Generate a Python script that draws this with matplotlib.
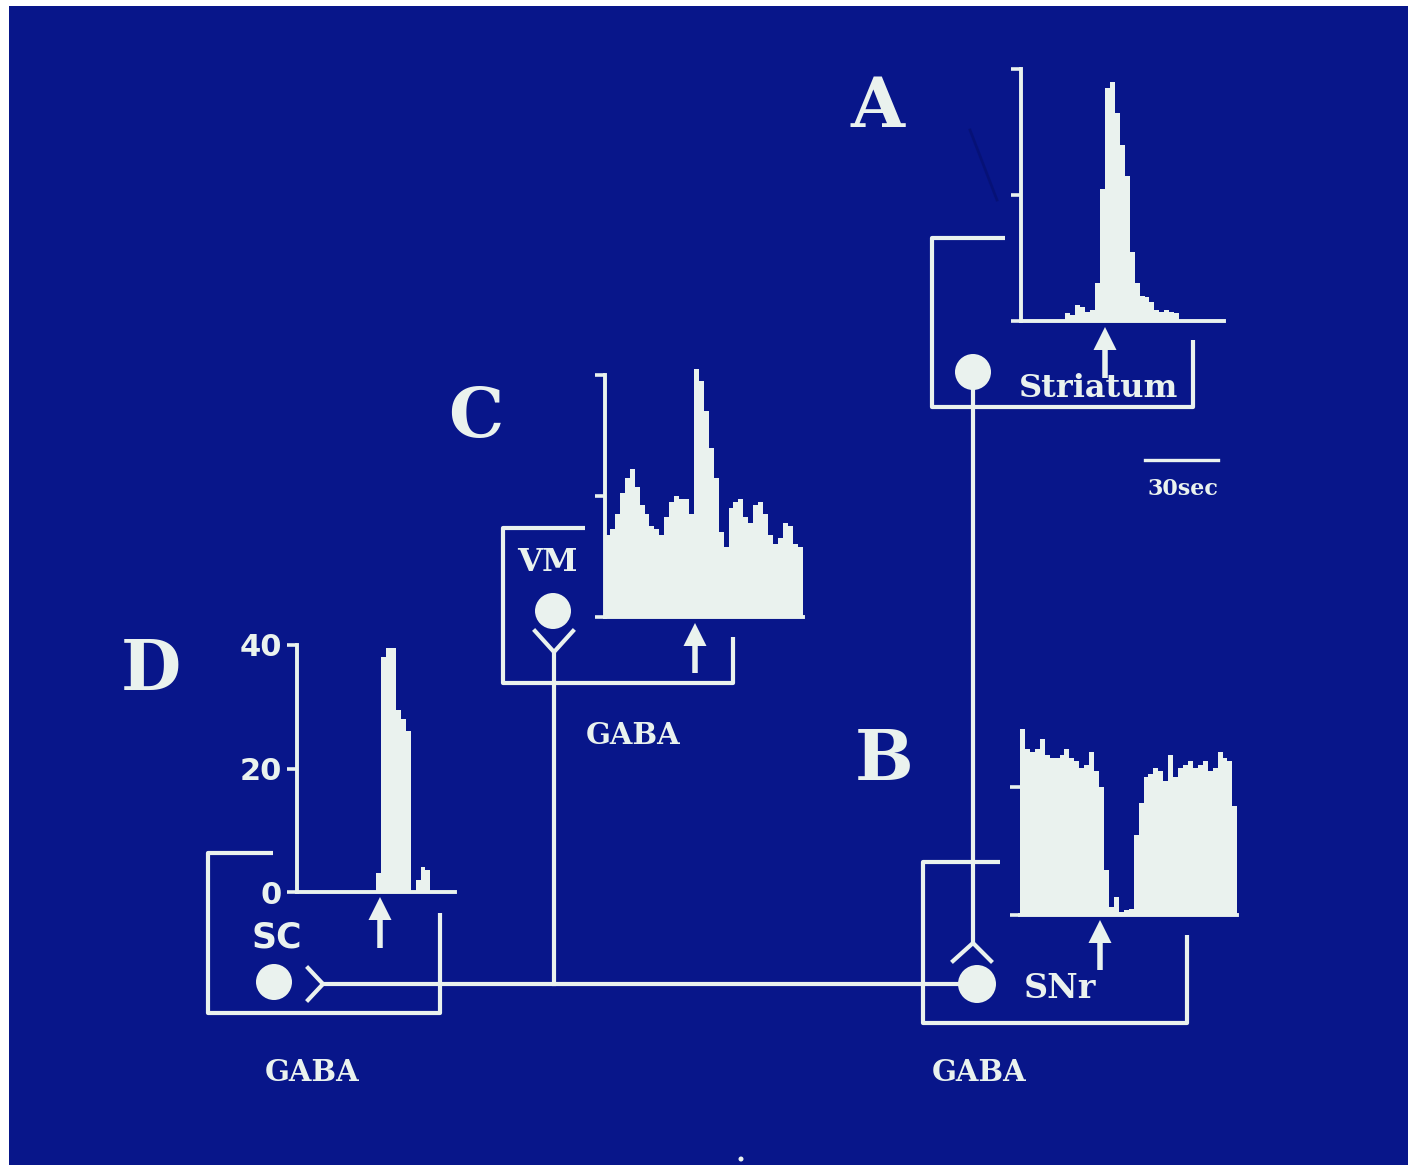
import numpy as np
import matplotlib.pyplot as plt
from matplotlib.patches import Circle, FancyArrow, Rectangle

W, H = 1408, 1165
BLUE = "#08168a"
FG = "#eaf2ee"
SERIF = "DejaVu Serif"
SANS = "DejaVu Sans"

BIN_S = 2.0  # seconds per histogram bin (30 s bar = 15 bins)

# rate histograms (spikes / bin), one value per 2 s bin
striatum_rate = [0, 0, 0, 0, 0, 0, 0, 0, 0, 1.3, 1.0, 2.5, 2.2, 1.5, 1.8, 6,
                 21, 37, 38, 33, 28, 23, 11, 6, 4, 3.8, 3, 1.7, 1.5, 1.7, 1.4,
                 1.2, 0, 0, 0, 0, 0, 0, 0, 0, 0]
vm_rate = [13.5, 14.5, 17, 20.5, 23, 24.5, 21.5, 18.5, 17, 15, 14.5, 13.5,
           16.5, 19, 20, 19.5, 19.5, 17, 41, 39, 34, 28, 23, 14, 11.5, 18, 19,
           19.5, 16.5, 15.5, 18.5, 19, 17, 13.5, 12, 13, 15.5, 15, 12, 11.5]
sc_rate = [0, 0, 0, 0, 0, 0, 0, 0, 0, 0, 0, 0, 0, 0, 0, 0, 3, 38, 39.5, 39.5,
           29.5, 28, 26, 0, 2, 4, 3.5, 0, 0, 0, 0, 0]
snr_rate = [29, 26, 25.5, 26, 27.5, 25, 24.5, 24.5, 25, 26, 24.5, 24, 23, 23.5,
            25.5, 22.5, 20, 7, 1.2, 2.8, 0.5, 0.8, 1, 12.5, 17.5, 21.5, 22, 23,
            22.5, 21, 25, 21.5, 23, 23.5, 24, 23, 23.5, 24, 22.5, 23, 25.5,
            24.5, 24, 17]
rate_ticks = [0, 20, 40]
sc_tick_labels = ["0", "20", "40"]


def px_axes(fig, left, right, top, bottom):
    return fig.add_axes([left / W, 1 - bottom / H, (right - left) / W,
                         (bottom - top) / H])


def draw_hist(ax, rate, ticks, show_left=True, labels=None):
    edges = np.arange(len(rate) + 1) * BIN_S
    st = ax.stairs(rate, edges, fill=True, color=FG, lw=0)
    st.set_clip_on(False)
    ax.set_xlim(0, edges[-1])
    ax.set_ylim(0, 40)
    ax.set_facecolor("none")
    for s in ("top", "right"):
        ax.spines[s].set_visible(False)
    ax.spines["left"].set_visible(show_left)
    for s in ("left", "bottom"):
        ax.spines[s].set_color(FG)
        ax.spines[s].set_linewidth(2.8)
    ax.set_xticks([])
    ax.set_yticks(ticks)
    ax.tick_params(axis="y", direction="out", length=7, width=2.6, color=FG,
                   labelcolor=FG, pad=4)
    if labels is None:
        ax.tick_params(axis="y", labelleft=False)
    else:
        ax.set_yticklabels(labels, fontsize=22, fontweight="bold", family=SANS)


fig = plt.figure(figsize=(W / 100, H / 100), dpi=100)
fig.patch.set_facecolor("white")

dax = fig.add_axes([0, 0, 1, 1])
dax.set_xlim(0, W)
dax.set_ylim(H, 0)
dax.axis("off")
dax.add_patch(Rectangle((9, 6), W - 9, H - 6, color=BLUE, lw=0, zorder=0))

lw = 3.0
# nucleus boxes
boxes = {
    "striatum": [(1005, 238), (932, 238), (932, 407), (1193, 407), (1193, 340)],
    "vm": [(585, 528), (503, 528), (503, 683), (733, 683), (733, 637)],
    "sc": [(273, 853), (208, 853), (208, 1013), (440, 1013), (440, 913)],
    "snr": [(1000, 862), (923, 862), (923, 1023), (1187, 1023), (1187, 935)],
}
for pts in boxes.values():
    xs, ys = zip(*pts)
    dax.plot(xs, ys, color=FG, lw=lw, solid_capstyle="butt")

# axons and terminals
dax.plot([973, 973], [390, 943], color=FG, lw=lw)
dax.plot([953, 973, 991], [961, 943, 961], color=FG, lw=lw)
dax.plot([323, 965], [984, 984], color=FG, lw=lw)
dax.plot([308, 323, 308], [968, 984, 1000], color=FG, lw=lw)
dax.plot([554, 554], [652, 984], color=FG, lw=lw)
dax.plot([535, 554, 573], [631, 652, 631], color=FG, lw=lw)

# cell bodies
for cx, cy, r in [(973, 372, 18), (553, 611, 18), (274, 982, 18), (977, 984, 19)]:
    dax.add_patch(Circle((cx, cy), r, color=FG, lw=0, zorder=3))

# stimulus arrows
for x, tip, tail in [(1105, 327, 378), (695, 623, 673), (380, 897, 948),
                     (1100, 920, 970)]:
    dax.add_patch(FancyArrow(x, tail, 0, tip - tail, width=5.5, head_width=23,
                             head_length=23, length_includes_head=True,
                             color=FG, lw=0))

# panel letters and labels
for s, x, y in [("A", 878, 127), ("C", 476, 437), ("B", 884, 780), ("D", 151, 690)]:
    dax.text(x, y, s, fontsize=50, fontweight="bold", family=SERIF, color=FG,
             ha="center", va="baseline")
for s, x, y, fs in [("Striatum", 1099, 397, 23), ("VM", 547, 571, 23),
                    ("SNr", 1060, 998, 24), ("GABA", 633, 744, 21),
                    ("GABA", 312, 1081, 21), ("GABA", 979, 1081, 21),
                    ("30sec", 1183, 495, 16)]:
    dax.text(x, y, s, fontsize=fs, fontweight="bold", family=SERIF, color=FG,
             ha="center", va="baseline")
dax.text(277, 948, "SC", fontsize=25, fontweight="bold", family=SANS, color=FG,
         ha="center", va="baseline")

# time scale bar
dax.plot([1145, 1218], [460, 460], color=FG, lw=2.4)

# slide blemishes
dax.plot([970, 997], [130, 200], color="#061070", lw=2, alpha=0.7)
dax.add_patch(Circle((741, 1159), 2.5, color=FG, lw=0))

# peri-stimulus histograms
ax_a = px_axes(fig, 1021, 1021 + 4.94 * len(striatum_rate), 69, 321)
draw_hist(ax_a, striatum_rate, rate_ticks)

ax_c = px_axes(fig, 605, 605 + 4.94 * len(vm_rate), 375, 617)
draw_hist(ax_c, vm_rate, rate_ticks)

ax_d = px_axes(fig, 297, 297 + 4.94 * len(sc_rate), 645, 892)
draw_hist(ax_d, sc_rate, rate_ticks, labels=sc_tick_labels)

ax_b = px_axes(fig, 1020, 1020 + 4.94 * len(snr_rate), 659, 915)
draw_hist(ax_b, snr_rate, [0, 20], show_left=False)

fig.savefig("out.png", dpi=100, facecolor=fig.get_facecolor())
plt.close(fig)
